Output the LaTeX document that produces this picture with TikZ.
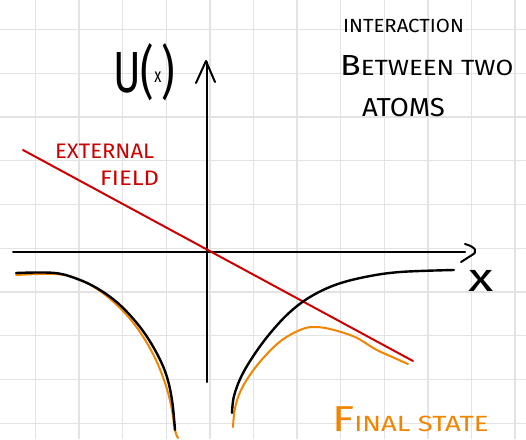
\documentclass[tikz,border=0pt]{standalone}
\usepackage{fontspec}
\setmainfont{Fira Sans}
\begin{document}
\begin{tikzpicture}[x=1pt,y=-1pt,
  gridline/.style={draw=black!11, line width=1.3pt},
  axis/.style={draw=black, line width=2pt, line cap=round, line join=round},
  pot/.style={draw=black, line width=2.4pt, line cap=round},
  fin/.style={draw=orange!90!yellow!95!black, line width=2pt, line cap=round},
  field/.style={draw=red!80!black, line width=2pt, line cap=round},
  hand/.style={inner sep=0pt, anchor=base west}]
\useasboundingbox (0,0) rectangle (526,439);
\fill[white] (0,0) rectangle (526,439);
% grid
\foreach \i in {0,...,11} \draw[gridline] ({35.5+43.6*\i},0) -- ({35.5+43.6*\i},439);
\foreach \j in {0,...,9} \draw[gridline] (0,{29.5+43.75*\j}) -- (526,{29.5+43.75*\j});
% axes
\coordinate (ytop) at (207,62);
\coordinate (ybot) at (207,382);
\coordinate (xl) at (13,252);
\coordinate (xr) at (465,252);
\draw[axis] (ybot) -- (ytop);
\draw[axis] (196,83) -- (206,61) -- (215,82);
\draw[axis] (xl) -- (xr);
\draw[axis] (465,244) .. controls (476,247) and (478,252) .. (472,255) -- (461,262);
% field line
\coordinate (f1) at (23,150);
\coordinate (f2) at (413,361);
\draw[field] (f1) -- (f2);
% final state curves (orange)
\draw[fin] plot[smooth, tension=0.6] coordinates {(16,275) (55,274) (78,279) (100,291) (122,310) (140,332) (155,358) (165,383) (171,405) (175,430) (178,438)};
\draw[fin] plot[smooth, tension=0.6] coordinates {(233,427) (235,408) (241,390) (252,372) (266,355) (282,340) (300,330) (313,327) (330,329) (355,337) (375,349) (390,356) (408,364)};
% potential curves (black)
\draw[pot] plot[smooth, tension=0.6] coordinates {(16,273) (55,273) (80,280) (100,290) (120,305) (140,327) (155,350) (166,374) (172,400) (175,430)};
\draw[pot] plot[smooth, tension=0.6] coordinates {(232,413) (234,396) (242,375) (256,352) (272,331) (290,312) (310,297) (335,285) (365,277) (400,272) (454,270)};
% labels
\node[hand, font=\fontsize{58}{58}\selectfont] (U) at (113,92) {\scalebox{0.72}[1]{U(\raisebox{10pt}{\fontsize{20}{20}\selectfont x})}};
\node[inner sep=0pt, font=\fontsize{40}{40}\selectfont] (X) at (481,281) {\scalebox{1.3}[1]{x}};
\node[hand, font=\fontsize{21}{21}\selectfont, text=red!80!black] (ext) at (55,158) {\scalebox{1.05}[1]{EXTERNAL}};
\node[hand, font=\fontsize{21}{21}\selectfont, text=red!80!black] (fld) at (100,185) {\scalebox{1.14}[1]{FIELD}};
\node[hand, font=\fontsize{19}{19}\selectfont] (t1) at (343,32) {\scalebox{1.07}[1]{INTERACTION}};
\node[hand, font=\fontsize{22}{22}\selectfont] (t2) at (340,75) {\scalebox{1.17}[1]{{\fontsize{29}{29}\selectfont B}ETWEEN TWO}};
\node[hand, font=\fontsize{26}{26}\selectfont] (t3) at (362,116) {\scalebox{1.06}[1]{ATOMS}};
\node[hand, font=\fontsize{22}{22}\selectfont, text=orange!90!yellow!95!black] (fs) at (332,431) {\scalebox{1.25}[1]{{\fontsize{36}{36}\selectfont F}INAL STATE}};
\end{tikzpicture}
\end{document}
